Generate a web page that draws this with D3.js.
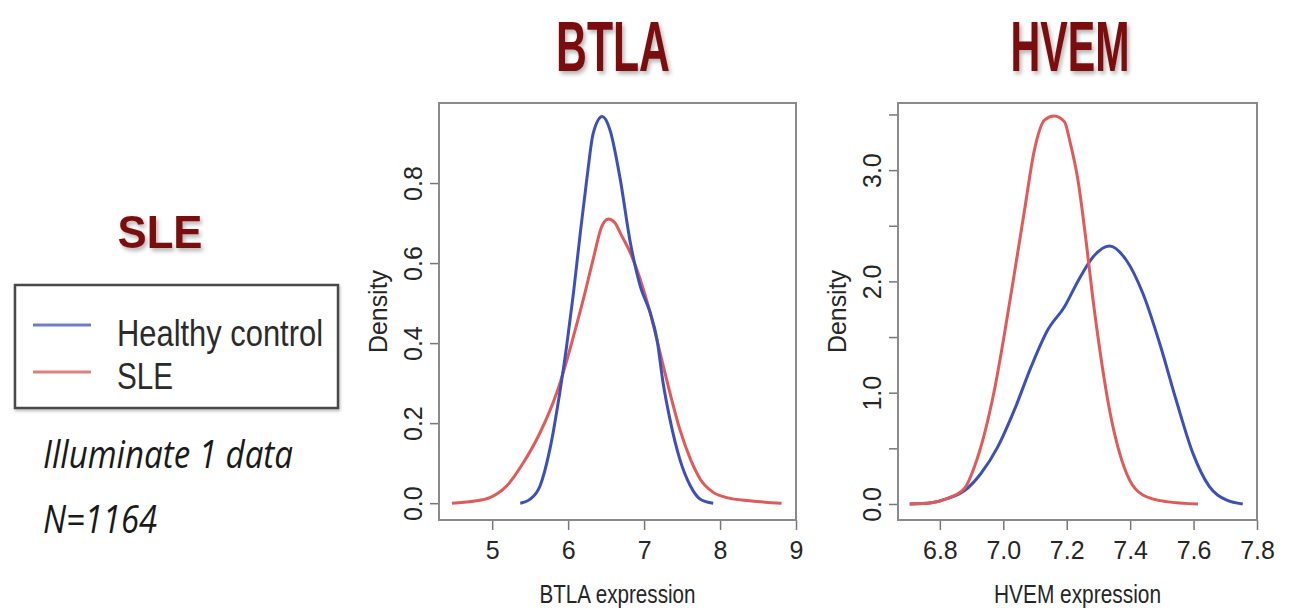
<!DOCTYPE html>
<html>
<head>
<meta charset="utf-8">
<script src="https://cdn.jsdelivr.net/npm/d3@7"></script>
<style>
  html, body { margin: 0; padding: 0; background: #fff; }
  svg { display: block; font-family: "Liberation Sans", Arial, Helvetica, sans-serif; }
</style>
</head>
<body>
<svg id="chart" width="1292" height="615"></svg>
<script>
// density curves: x values + density values per group
const btlaHealthyX = [5.37, 5.5, 5.63, 5.76, 5.89, 5.98, 6.07, 6.16, 6.25, 6.33, 6.45, 6.55, 6.68, 6.82, 6.95, 7.08, 7.17, 7.25, 7.34, 7.47, 7.61, 7.74, 7.91];
const btlaHealthyY = [0, 0.01, 0.043, 0.135, 0.276, 0.392, 0.525, 0.675, 0.816, 0.924, 0.966, 0.933, 0.816, 0.65, 0.542, 0.476, 0.409, 0.301, 0.21, 0.11, 0.043, 0.01, 0];

const btlaSleX = [4.47, 4.75, 4.97, 5.19, 5.41, 5.63, 5.85, 5.96, 6.07, 6.2, 6.33, 6.44, 6.53, 6.61, 6.7, 6.82, 6.95, 7.08, 7.21, 7.34, 7.47, 7.61, 7.74, 7.91, 8.09, 8.39, 8.81];
const btlaSleY = [0, 0.005, 0.014, 0.043, 0.101, 0.176, 0.276, 0.342, 0.417, 0.509, 0.61, 0.69, 0.71, 0.702, 0.67, 0.625, 0.559, 0.476, 0.376, 0.276, 0.185, 0.11, 0.06, 0.027, 0.014, 0.006, 0];

const hvemHealthyX = [6.705, 6.773, 6.825, 6.878, 6.93, 6.983, 7.035, 7.088, 7.14, 7.193, 7.235, 7.283, 7.335, 7.388, 7.44, 7.493, 7.545, 7.598, 7.65, 7.703, 7.755];
const hvemHealthyY = [0, 0.012, 0.05, 0.12, 0.276, 0.515, 0.845, 1.234, 1.563, 1.773, 2.0, 2.22, 2.318, 2.19, 1.893, 1.444, 0.934, 0.455, 0.156, 0.036, 0];

const hvemSleX = [6.705, 6.773, 6.825, 6.878, 6.909, 6.941, 6.972, 7.004, 7.035, 7.067, 7.098, 7.13, 7.16, 7.193, 7.209, 7.236, 7.262, 7.283, 7.309, 7.335, 7.367, 7.398, 7.44, 7.514, 7.614];
const hvemSleY = [0, 0.012, 0.051, 0.141, 0.335, 0.635, 1.024, 1.534, 2.073, 2.641, 3.18, 3.45, 3.486, 3.435, 3.27, 2.9, 2.34, 1.833, 1.294, 0.845, 0.455, 0.216, 0.081, 0.021, 0];

const btlaXTicks = [5, 6, 7, 8, 9];
const btlaYTicks = [0, 0.2, 0.4, 0.6, 0.8];
const btlaYLabels = ["0.0", "0.2", "0.4", "0.6", "0.8"];
const hvemXTicks = [6.8, 7.0, 7.2, 7.4, 7.6, 7.8];
const hvemYTicks = [0, 0.5, 1, 1.5, 2, 2.5, 3, 3.5];
const hvemYLabels = ["0.0", "", "1.0", "", "2.0", "", "3.0", ""];

const groups = ["Healthy control", "SLE"];
const groupColors = ["#3d4fb8", "#e05a5a"];
const legendColors = ["#6f7cc9", "#df7f80"];

const svg = d3.select("#chart");

const defs = svg.append("defs");
defs.append("filter").attr("id", "shadow")
    .attr("x", "-10%").attr("y", "-10%").attr("width", "130%").attr("height", "140%")
    .append("feDropShadow")
    .attr("dx", 2).attr("dy", 3).attr("stdDeviation", 2)
    .attr("flood-color", "#000").attr("flood-opacity", 0.3);
defs.append("filter").attr("id", "boxshadow")
    .attr("x", "-5%").attr("y", "-5%").attr("width", "115%").attr("height", "120%")
    .append("feDropShadow")
    .attr("dx", 1).attr("dy", 2).attr("stdDeviation", 1.5)
    .attr("flood-color", "#000").attr("flood-opacity", 0.25);

const titleColor = "#7a0d0e";
const textColor = "#262626";

function zip(xs, ys) {
    return xs.map((x, i) => [x, ys[i]]);
}

function drawPanel(p) {
    const x = d3.scaleLinear().domain(p.xDomain).range([p.left, p.right]);
    const y = d3.scaleLinear().domain(p.yDomain).range([p.bottom, p.top]);
    const g = svg.append("g");

    // title above the panel
    g.append("text")
        .attr("x", p.titleX).attr("y", 71)
        .attr("text-anchor", "middle")
        .attr("font-size", 70).attr("font-weight", "bold")
        .attr("fill", titleColor)
        .attr("textLength", p.titleW).attr("lengthAdjust", "spacingAndGlyphs")
        .attr("filter", "url(#shadow)")
        .text(p.title);

    // x axis
    const xAxis = g.append("g")
        .attr("transform", `translate(0,${p.bottom})`)
        .call(d3.axisBottom(x).tickValues(p.xTicks).tickSize(10).tickFormat(p.xFormat));
    xAxis.select(".domain").remove();
    xAxis.selectAll(".tick line").attr("stroke", "#777").attr("stroke-width", 1.5);
    xAxis.selectAll(".tick text")
        .attr("y", 39).attr("dy", null)
        .attr("font-size", 25).attr("fill", textColor)
        .attr("font-family", "Liberation Sans, Arial, sans-serif");

    // y axis, labels rotated like base R
    const yAxis = g.append("g")
        .attr("transform", `translate(${p.left},0)`)
        .call(d3.axisLeft(y).tickValues(p.yTicks).tickSize(9).tickFormat((d, i) => p.yLabels[i]));
    yAxis.select(".domain").remove();
    yAxis.selectAll(".tick line").attr("stroke", "#777").attr("stroke-width", 1.5);
    yAxis.selectAll(".tick text")
        .attr("transform", "rotate(-90)")
        .attr("x", 0).attr("y", -17).attr("dy", null)
        .attr("text-anchor", "middle")
        .attr("font-size", 25).attr("fill", textColor)
        .attr("font-family", "Liberation Sans, Arial, sans-serif");

    // plot box
    g.append("rect")
        .attr("x", p.left).attr("y", p.top)
        .attr("width", p.right - p.left).attr("height", p.bottom - p.top)
        .attr("fill", "none").attr("stroke", "#8a8a8a").attr("stroke-width", 2);

    // axis titles
    g.append("text")
        .attr("x", (p.left + p.right) / 2).attr("y", 603)
        .attr("text-anchor", "middle").attr("font-size", 25).attr("fill", textColor)
        .attr("textLength", p.xLabelW).attr("lengthAdjust", "spacingAndGlyphs")
        .text(p.xLabel);
    g.append("text")
        .attr("transform", `translate(${p.left - 52},${(p.top + p.bottom) / 2}) rotate(-90)`)
        .attr("text-anchor", "middle").attr("font-size", 25).attr("fill", textColor)
        .attr("textLength", 83).attr("lengthAdjust", "spacingAndGlyphs")
        .text("Density");

    const line = d3.line()
        .x(d => x(d[0]))
        .y(d => y(d[1]))
        .curve(d3.curveMonotoneX);

    p.series.forEach((s, i) => {
        g.append("path")
            .datum(s)
            .attr("d", line)
            .attr("fill", "none")
            .attr("stroke", p.colors[i])
            .attr("stroke-width", 3)
            .attr("stroke-linejoin", "round");
    });
}

drawPanel({
    title: "BTLA", titleX: 613, titleW: 114,
    left: 439, right: 796, top: 103, bottom: 520,
    xDomain: [4.30, 9.0], yDomain: [-0.042, 1.0],
    xTicks: btlaXTicks, xFormat: d3.format("d"),
    yTicks: btlaYTicks, yLabels: btlaYLabels,
    xLabel: "BTLA expression", xLabelW: 156,
    series: [zip(btlaSleX, btlaSleY), zip(btlaHealthyX, btlaHealthyY)],
    colors: [groupColors[1], groupColors[0]]
});

drawPanel({
    title: "HVEM", titleX: 1070, titleW: 119,
    left: 898, right: 1257, top: 103, bottom: 520,
    xDomain: [6.668, 7.80], yDomain: [-0.144, 3.603],
    xTicks: hvemXTicks, xFormat: d3.format(".1f"),
    yTicks: hvemYTicks, yLabels: hvemYLabels,
    xLabel: "HVEM expression", xLabelW: 167,
    series: [zip(hvemHealthyX, hvemHealthyY), zip(hvemSleX, hvemSleY)],
    colors: [groupColors[0], groupColors[1]]
});

// left side: heading, legend and data note
svg.append("text")
    .attr("x", 160).attr("y", 248)
    .attr("text-anchor", "middle")
    .attr("font-size", 46).attr("font-weight", "bold")
    .attr("fill", titleColor)
    .attr("textLength", 85).attr("lengthAdjust", "spacingAndGlyphs")
    .attr("filter", "url(#shadow)")
    .text("SLE");

const legend = svg.append("g");
legend.append("rect")
    .attr("x", 15).attr("y", 285).attr("width", 323).attr("height", 123)
    .attr("fill", "#fff").attr("stroke", "#4a4a4a").attr("stroke-width", 2.5)
    .attr("filter", "url(#boxshadow)");

const legendY = [325, 372];
const legendBase = [346, 389];
const legendW = [206, 56];
groups.forEach((name, i) => {
    legend.append("line")
        .attr("x1", 33).attr("x2", 91)
        .attr("y1", legendY[i]).attr("y2", legendY[i])
        .attr("stroke", legendColors[i]).attr("stroke-width", 3);
    legend.append("text")
        .attr("x", 117).attr("y", legendBase[i])
        .attr("font-size", 37).attr("fill", "#2b2b2b")
        .attr("textLength", legendW[i]).attr("lengthAdjust", "spacingAndGlyphs")
        .text(name);
});

const note = svg.append("g")
    .attr("font-family", "'Open Sans', 'Noto Sans', sans-serif")
    .attr("font-style", "italic")
    .attr("font-size", 38)
    .attr("fill", "#1a1a1a");
note.append("text").attr("x", 43).attr("y", 468)
    .attr("textLength", 250).attr("lengthAdjust", "spacingAndGlyphs")
    .text("Illuminate 1 data");
note.append("text").attr("x", 43).attr("y", 533)
    .attr("textLength", 114).attr("lengthAdjust", "spacingAndGlyphs")
    .text("N=1164");
</script>
</body>
</html>
